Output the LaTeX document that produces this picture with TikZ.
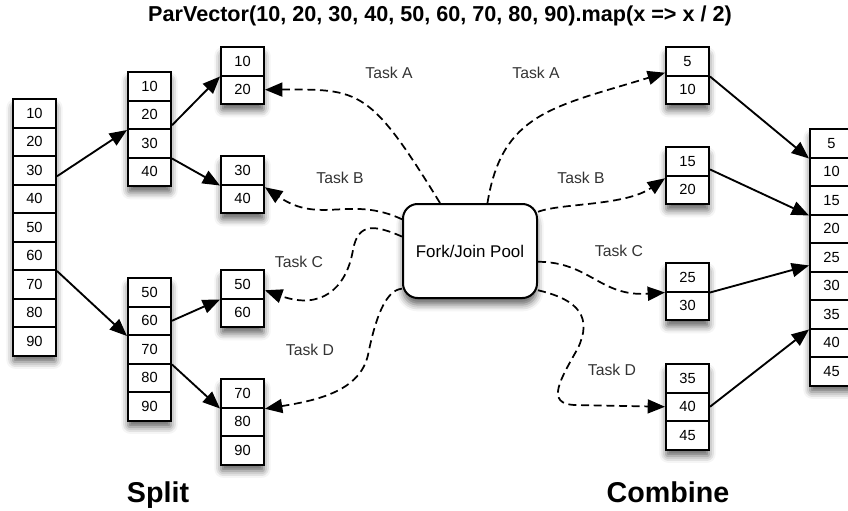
\documentclass[tikz,border=0pt]{standalone}
\usepackage{fontspec}
\setmainfont{Liberation Sans}
\usetikzlibrary{arrows.meta,shadows.blur}

\tikzset{
  cell/.style={draw, line width=1.5pt, minimum width=32.25pt, minimum height=21.375pt,
    inner sep=0pt, font=\fontsize{11}{12}\selectfont},
  stackframe/.style={fill=white, rounded corners=1.5pt,
    blur shadow={shadow xshift=0pt, shadow yshift=-5pt, shadow blur radius=5pt, shadow opacity=60}},
  pool/.style={draw, line width=1.5pt, rounded corners=11pt, fill=white,
    minimum width=100.5pt, minimum height=70.5pt, font=\fontsize{12.7}{14}\selectfont,
    blur shadow={shadow xshift=0pt, shadow yshift=-5pt, shadow blur radius=5pt, shadow opacity=60}},
  solidarrow/.style={line width=1.4pt, opacity=1, fill opacity=1,
    -{Triangle[length=13pt,width=10.5pt,fill=black]}},
  taskarrow/.style={line width=1.3pt, opacity=1, fill opacity=1, dash pattern=on 6pt off 3.5pt,
    -{Triangle[length=13pt,width=10.5pt,fill=black]}},
  tasklabel/.style={text=black!80, font=\fontsize{11.8}{13}\selectfont},
  bigword/.style={anchor=base, font=\fontsize{21.5}{24}\selectfont\bfseries},
  titletext/.style={font=\fontsize{16.2}{18}\selectfont\bfseries},
}
% name, left x, top y, number of cells, values
\newcommand{\cellstack}[5]{
  \fill[stackframe] (#2,#3) rectangle ++(43,#4*28.5);
  \foreach \v [count=\idx] in {#5}{
    \node[cell] (#1-\idx) at (#2+21.5,#3+\idx*28.5-14.25) {\v};
  }
}

\begin{document}
\begin{tikzpicture}[x=0.75pt,y=-0.75pt]
\useasboundingbox (0,0) rectangle (848,510);
\node[titletext] (title) at (440,16) {ParVector(10, 20, 30, 40, 50, 60, 70, 80, 90).map(x => x / 2)};

% split side
\cellstack{a}{13}{99}{9}{10,20,30,40,50,60,70,80,90}
\cellstack{ba}{128}{72}{4}{10,20,30,40}
\cellstack{bb}{128}{278}{5}{50,60,70,80,90}
\cellstack{ca}{221}{47}{2}{10,20}
\cellstack{cb}{221}{156}{2}{30,40}
\cellstack{cc}{221}{270}{2}{50,60}
\cellstack{cd}{221}{379}{3}{70,80,90}

% combine side
\cellstack{ra}{666}{47}{2}{5,10}
\cellstack{rb}{666}{147}{2}{15,20}
\cellstack{rc}{666}{263}{2}{25,30}
\cellstack{rd}{666}{364}{3}{35,40,45}
\cellstack{res}{810}{129}{9}{5,10,15,20,25,30,35,40,45}

\node[pool] (pool) at (470,251) {Fork/Join Pool};

\draw[solidarrow] (a-3.-15) -- (ba-2.south west);
\draw[solidarrow] (ba-2.-25) -- (ca-1.south west);
\draw[solidarrow] (ba-3.south east) -- (cb-1.south west);
\draw[solidarrow] (a-6.south east) -- (bb-2.south west);
\draw[solidarrow] (bb-2.east) -- (cc-1.south west);
\draw[solidarrow] (bb-3.south east) -- (cd-1.south west);

\draw[solidarrow] (ra-1.south east) -- (res-1.south west);
\draw[solidarrow] (rb-1.-20) -- (res-3.south west);
\draw[solidarrow] (rc-1.south east) -- (res-5.200);
\draw[solidarrow] (rd-2.east) -- (res-7.south west);

% tasks
\draw[taskarrow] (pool.122) .. controls (370,89) and (360,89) .. (ca-2.east);
\draw[taskarrow] (pool.155) .. controls (350,195) and (320,225) .. (cb-2.27);
\draw[taskarrow] (pool.168) .. controls (375,225) and (358,222) .. (353,250)
  .. controls (346,290) and (320,310) .. (cc-1.-15);
\draw[taskarrow] (pool.209) .. controls (385,290) and (375,320) .. (368,355)
  .. controls (360,390) and (320,400) .. (cd-2.30);
\draw[taskarrow] (pool.70) .. controls (502,113) and (553,107) .. (ra-1.207);
\draw[taskarrow] (pool.30) .. controls (562,203) and (625,206) .. (rb-2.153);
\draw[taskarrow] (pool.-9) .. controls (590,262) and (600,297) .. (rc-1.south west);
\draw[taskarrow] (pool.-30) .. controls (580,300) and (592,318) .. (578,348)
  .. controls (560,380) and (545,404) .. (575,405) -- (rd-2.west);

\node[tasklabel] (tla) at (389,73) {Task A};
\node[tasklabel] (tlb) at (340,178) {Task B};
\node[tasklabel] (tlc) at (299,262) {Task C};
\node[tasklabel] (tld) at (310,350) {Task D};
\node[tasklabel] (tra) at (536,73) {Task A};
\node[tasklabel] (trb) at (581,178) {Task B};
\node[tasklabel] (trc) at (619,251) {Task C};
\node[tasklabel] (trd) at (612,370) {Task D};

\node[bigword] (split) at (158,502) {Split};
\node[bigword] (combine) at (668,502) {Combine};
\end{tikzpicture}
\end{document}
